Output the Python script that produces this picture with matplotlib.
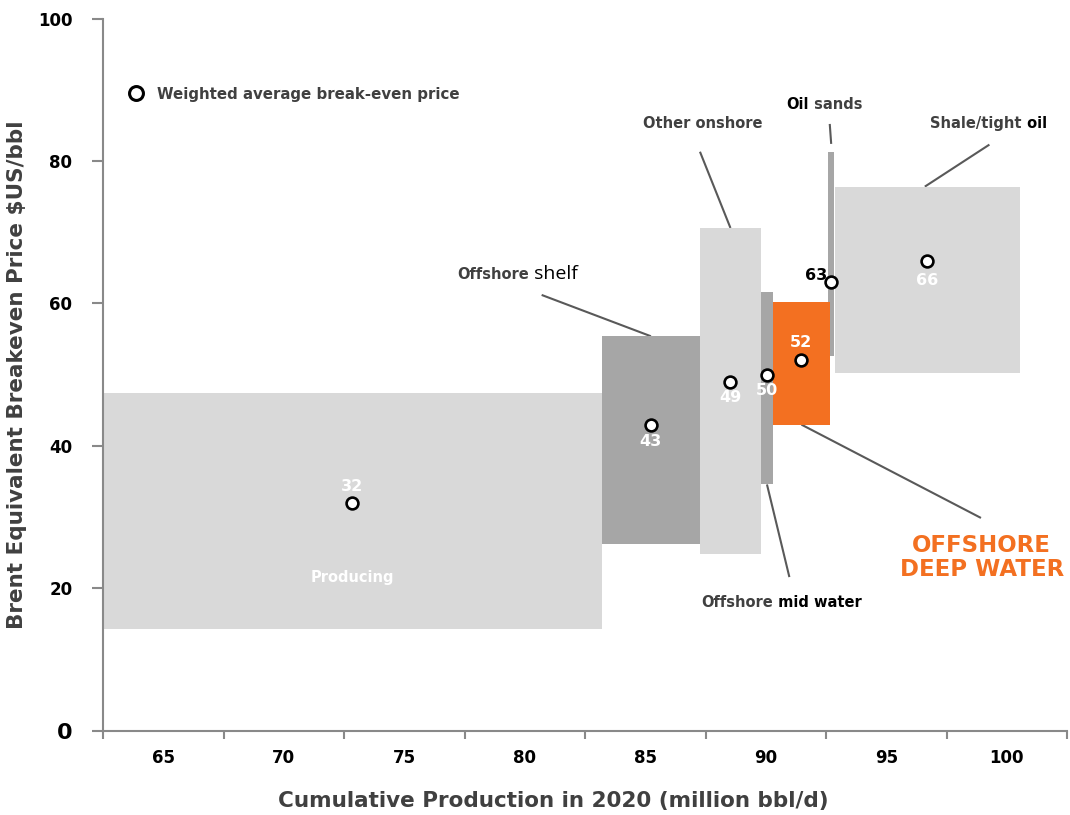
import matplotlib
matplotlib.use("Agg")
import matplotlib.pyplot as plt
import numpy as np

# supply segments, left to right along the cumulative production axis
segments = ["Producing", "Offshore shelf", "Other onshore", "Offshore mid water",
            "Offshore deep water", "Oil sands", "Shale/tight oil"]
x_start = [62.5, 83.2, 87.27, 89.8, 90.3, 92.6, 92.87]
x_end = [83.2, 87.27, 89.8, 90.3, 92.66, 92.83, 100.55]
price_low = [14.3, 26.2, 24.8, 34.6, 43.0, 52.7, 50.3]
price_high = [47.5, 55.4, 70.6, 61.6, 60.2, 81.3, 76.4]
avg_price = [32, 43, 49, 50, 52, 63, 66]

x_ticklabels = [65, 70, 75, 80, 85, 90, 95, 100]
y_ticks = [0, 20, 40, 60, 80, 100]

LIGHT = "#d9d9d9"
DARK = "#a6a6a6"
ORANGE = "#f37021"
TXT = "#404040"
LINE = "#595959"
seg_colors = [LIGHT, DARK, LIGHT, DARK, ORANGE, DARK, LIGHT]

plt.rcParams["font.family"] = "DejaVu Sans"

fig = plt.figure(figsize=(10.7, 8.15), dpi=100)
ax = fig.add_axes([0.0963, 0.1031, 0.9009, 0.8742])

x0 = np.array(x_start)
x1 = np.array(x_end)
lo = np.array(price_low)
hi = np.array(price_high)
xc = (x0 + x1) / 2

bars = ax.bar(x0, hi - lo, width=x1 - x0, bottom=lo, align="edge",
              color=seg_colors, linewidth=0, zorder=2)
bars[4].set_zorder(3)  # deep water sits over the oil sands sliver

ax.plot(xc, avg_price, "o", ms=8.5, mfc="white", mec="black", mew=1.9, zorder=5)

# value labels next to the average markers (offsets in points)
label_offsets = [(0, 12), (0, -12), (0, -11), (0, -11), (0, 13), (-11, 5), (0, -14)]
label_colors = ["white"] * 5 + ["black", "white"]
for x, v, off, c in zip(xc, avg_price, label_offsets, label_colors):
    ax.annotate(str(v), (x, v), xytext=off, textcoords="offset points",
                ha="center", va="center", fontsize=11.5, fontweight="bold",
                color=c, zorder=6)

ax.text(xc[0], 21.5, "Producing", ha="center", va="center", fontsize=10.5,
        fontweight="bold", color="white", zorder=4)

# leader lines: from the box to the callout text
leaders = [
    ((80.7, 61.2), (xc[1], hi[1])),
    ((87.27, 81.3), (xc[2], hi[2])),
    ((xc[5] - 0.06, hi[5] + 3.9), (xc[5], hi[5] + 1.1)),
    ((99.28, 82.3), (96.6, hi[6])),
    ((90.98, 21.6), (xc[3], lo[3])),
    ((98.93, 29.9), (xc[4], lo[4])),
]
for (ax0, ay0), (ax1, ay1) in leaders:
    ax.plot([ax0, ax1], [ay0, ay1], color=LINE, lw=1.5, zorder=1,
            solid_capstyle="butt")


def two_tone(x, y, first, second, c1, c2, size=10.5, second_kw=None):
    t = ax.text(x, y, first, ha="left", va="center", fontsize=size,
                fontweight="bold", color=c1)
    kw = dict(fontsize=size, fontweight="bold", color=c2)
    if second_kw:
        kw.update(second_kw)
    ax.annotate(second, xy=(1, 0.5), xycoords=t, ha="left", va="center", **kw)


two_tone(77.18, 64.1, "Offshore", " shelf", TXT, "black",
         second_kw=dict(fontsize=14, fontweight="normal", family="Open Sans"))
ax.text(87.4, 85.3, "Other onshore", ha="center", va="center", fontsize=10.5,
        fontweight="bold", color=TXT)
two_tone(90.84, 87.9, "Oil", " sands", "black", TXT)
two_tone(96.82, 85.3, "Shale/tight", " oil", TXT, "black")
two_tone(87.34, 18.0, "Offshore", " mid water", TXT, "black")
ax.text(98.96, 24.4, "OFFSHORE\nDEEP WATER", ha="center", va="center",
        fontsize=16.5, fontweight="bold", color=ORANGE, linespacing=1.05)

# legend key
ax.plot([63.87], [89.5], "o", ms=10, mfc="white", mec="black", mew=2.2)
ax.text(64.74, 89.4, "Weighted average break-even price", ha="left",
        va="center", fontsize=10.8, fontweight="bold", color=TXT)

ax.set_xlim(62.5, 102.5)
ax.set_ylim(0, 100)

# tick marks sit between the category-style labels
ax.set_xticks(np.arange(62.5, 103, 5))
ax.set_xticklabels([])
ax.set_xticks(x_ticklabels, minor=True)
ax.set_xticklabels([str(v) for v in x_ticklabels], minor=True)
ax.tick_params(axis="x", which="major", length=6, width=1.5, color="#898989",
               direction="out")
ax.tick_params(axis="x", which="minor", length=0, pad=13, labelsize=12)
for lab in ax.get_xticklabels(minor=True):
    lab.set_fontweight("bold")

ax.set_yticks(y_ticks)
ax.set_yticklabels([str(v) for v in y_ticks])
ax.tick_params(axis="y", length=8, width=1.5, color="#898989", pad=14,
               labelsize=12)
for lab in ax.get_yticklabels():
    lab.set_fontweight("bold")
ax.get_yticklabels()[0].set_fontsize(16)

for side in ["top", "right"]:
    ax.spines[side].set_visible(False)
for side in ["left", "bottom"]:
    ax.spines[side].set_color("#898989")
    ax.spines[side].set_linewidth(1.5)

ax.set_xlabel("Cumulative Production in 2020 (million bbl/d)", fontsize=15.5,
              fontweight="bold", color=TXT, labelpad=17, x=0.467)
ax.set_ylabel("Brent Equivalent Breakeven Price $US/bbl", fontsize=15.5,
              fontweight="bold", color=TXT, labelpad=8)

fig.savefig("out.png", dpi=100)
